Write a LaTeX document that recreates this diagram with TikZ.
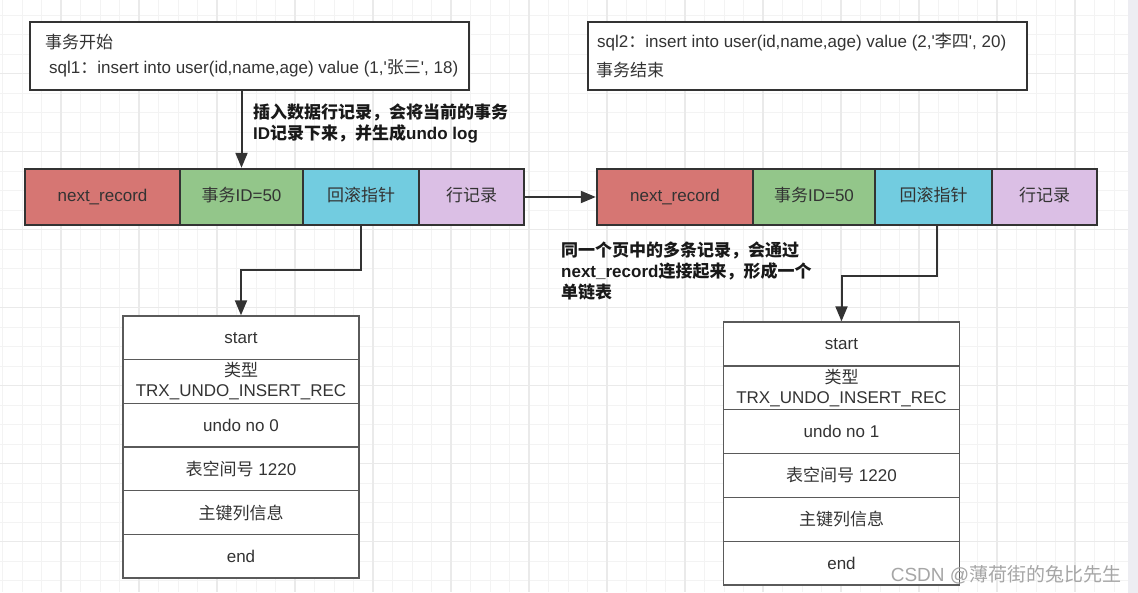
\documentclass[tikz,border=0pt]{standalone}
\usepackage{fontspec}
\setmainfont{Liberation Sans}
\newfontfamily\cjk{Noto Sans CJK SC}
\usetikzlibrary{arrows.meta}
\definecolor{lineC}{HTML}{333333}
\definecolor{undoC}{HTML}{5A5A5A}
\definecolor{txtC}{HTML}{333333}
\definecolor{redC}{HTML}{D67673}
\definecolor{greenC}{HTML}{93C68A}
\definecolor{cyanC}{HTML}{72CCE0}
\definecolor{purpC}{HTML}{DBBFE5}
\definecolor{gridMinor}{HTML}{F3F3F3}
\definecolor{gridMajor}{HTML}{EAEAEA}
\definecolor{stripC}{HTML}{EDEDF2}
\tikzset{
  txt/.style={inner sep=0pt, text=txtC},
  ann/.style={inner sep=0pt, text=black!90, font=\fontsize{17}{20.8}\selectfont\bfseries, align=left},
  topbox/.style={draw=lineC, line width=2.4pt, fill=white, inner sep=0pt},
  cell/.style={draw=lineC, line width=2.4pt, inner sep=0pt, text=txtC, minimum height=56pt, text height=12pt, text depth=3pt},
  urow/.style={draw=undoC, line width=1.3pt, fill=white, inner sep=0pt, text=txtC, minimum width=236pt, align=center},
  arr/.style={draw=lineC, line width=2pt, -{Triangle[length=15pt,width=12pt]}},
}
\begin{document}
\begin{tikzpicture}[x=1pt,y=-1pt, font=\fontsize{17}{20}\selectfont]
\useasboundingbox (0,0) rectangle (1138,593);
% background grid
\fill[white] (0,0) rectangle (1128,593);
\foreach \i in {0,...,57} {
  \draw[gridMinor, line width=1pt] ({2.5+19.5*\i},0) -- ({2.5+19.5*\i},592);
}
\foreach \j in {0,...,29} {
  \draw[gridMinor, line width=1pt] (0,{15.2+19.5*\j}) -- (1128,{15.2+19.5*\j});
}
\foreach \i in {0,...,13} {
  \draw[gridMajor, line width=1.2pt] ({61+78*\i},0) -- ({61+78*\i},592);
}
\foreach \j in {0,...,7} {
  \draw[gridMajor, line width=1.2pt] (0,{73.7+78*\j}) -- (1128,{73.7+78*\j});
}
\fill[stripC] (1128,0) rectangle (1138,593);

% top boxes
\node[topbox, minimum width=439pt, minimum height=68pt] (b1) at (249.5,56) {};
\node[txt, anchor=west] (b1t1) at (45,42) {{\cjk 事务开始}};
\node[txt, anchor=west] (b1t2) at (49,68) {sql1{\cjk ：}insert into user(id,name,age) value (1,\textquotesingle{\cjk 张三}\textquotesingle, 18)};

\node[topbox, minimum width=439pt, minimum height=68pt] (b2) at (807.5,56) {};
\node[txt, anchor=west] (b2t1) at (597,42) {sql2{\cjk ：}insert into user(id,name,age) value (2,\textquotesingle{\cjk 李四}\textquotesingle, 20)};
\node[txt, anchor=west] (b2t2) at (596,70) {{\cjk 事务结束}};

% left record row
\node[cell, fill=redC, minimum width=155pt] (l1) at (102.5,197) {next\_record};
\node[cell, fill=greenC, minimum width=123pt] (l2) at (241.5,197) {{\cjk 事务}ID=50};
\node[cell, fill=cyanC, minimum width=116pt] (l3) at (361,197) {{\cjk 回滚指针}};
\node[cell, fill=purpC, minimum width=105pt] (l4) at (471.5,197) {{\cjk 行记录}};

% right record row
\node[cell, fill=redC, minimum width=156pt] (r1) at (675,197) {next\_record};
\node[cell, fill=greenC, minimum width=122pt] (r2) at (814,197) {{\cjk 事务}ID=50};
\node[cell, fill=cyanC, minimum width=117pt] (r3) at (933.5,197) {{\cjk 回滚指针}};
\node[cell, fill=purpC, minimum width=105pt] (r4) at (1044.5,197) {{\cjk 行记录}};

% annotations
\node[ann, anchor=north west] (a1) at (253,104) {{\cjk 插入数据行记录，会将当前的事务}\\ID{\cjk 记录下来，并生成}undo log};
\node[ann, anchor=north west] (a2) at (561,242) {{\cjk 同一个页中的多条记录，会通过}\\next\_record{\cjk 连接起来，形成一个}\\{\cjk 单链表}};

% left undo log
\node[urow, minimum height=43.7pt] (u1a) at (241,337.8) {start};
\node[urow, minimum height=43.7pt] (u1b) at (241,381.5) {{\cjk 类型}\\TRX\_UNDO\_INSERT\_REC};
\node[urow, minimum height=43.7pt] (u1c) at (241,425.2) {undo no 0};
\node[urow, minimum height=43.7pt] (u1d) at (241,468.8) {{\cjk 表空间号} 1220};
\node[urow, minimum height=43.7pt] (u1e) at (241,512.5) {{\cjk 主键列信息}};
\node[urow, minimum height=43.7pt] (u1f) at (241,556.2) {end};

% right undo log
\node[urow, minimum height=43.8pt] (u2a) at (841.5,343.9) {start};
\node[urow, minimum height=43.8pt] (u2b) at (841.5,387.8) {{\cjk 类型}\\TRX\_UNDO\_INSERT\_REC};
\node[urow, minimum height=43.8pt] (u2c) at (841.5,431.6) {undo no 1};
\node[urow, minimum height=43.8pt] (u2d) at (841.5,475.4) {{\cjk 表空间号} 1220};
\node[urow, minimum height=43.8pt] (u2e) at (841.5,519.3) {{\cjk 主键列信息}};
\node[urow, minimum height=43.8pt] (u2f) at (841.5,563.1) {end};

% connectors
\draw[arr] (l2.north |- b1.south) -- (l2.north);
\draw[arr] (l4.east) -- (r1.west);
\coordinate (k1) at (361,270);
\coordinate (k2) at (937,276);
\draw[arr] (l3.south) -- (k1) -| (u1a.north);
\draw[arr] (r3.south -| k2) -- (k2) -| (u2a.north);

% watermark
\node[inner sep=0pt, text=black!35, font=\fontsize{19}{21}\selectfont] (wm) at (1006,575) {CSDN @{\cjk 薄荷街的兔比先生}};
\end{tikzpicture}
\end{document}
